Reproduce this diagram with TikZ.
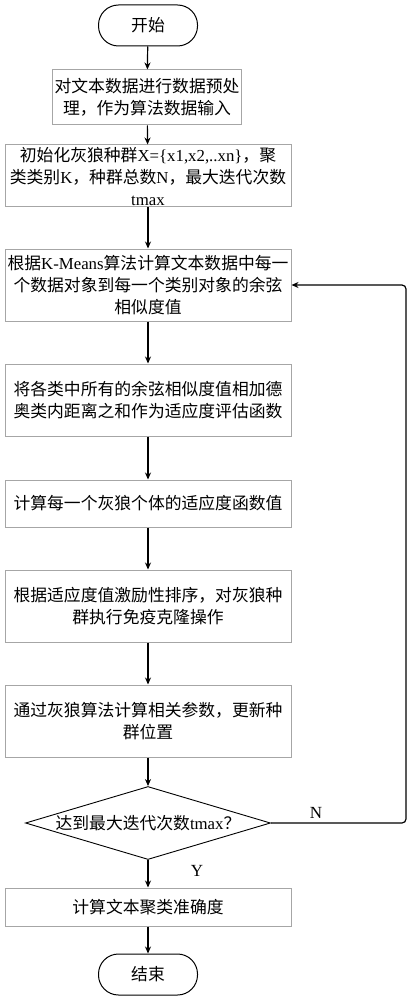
\documentclass[tikz,border=0pt]{standalone}
\usepackage{fontspec}
\setmainfont{Noto Sans CJK SC}
\newfontfamily\lat{Liberation Serif}
\usetikzlibrary{shapes.geometric,arrows.meta}
\begin{document}
\begin{tikzpicture}[x=1pt,y=-1pt,
  every node/.style={font=\fontsize{16.8}{22}\selectfont},
  term/.style={draw=black, line width=1pt, rounded corners=20pt, minimum width=99pt, minimum height=41pt, inner sep=0pt},
  proc/.style={draw=gray!70, line width=1pt, minimum width=286pt, inner sep=0pt, align=center},
  dec/.style={draw=black, line width=0.9pt, diamond, aspect=3.36, inner sep=0pt, minimum width=245pt, minimum height=73pt},
  arr/.style={-{Stealth[length=7pt,width=6pt]}, line width=1.2pt},
  lbl/.style={font=\lat\fontsize{17}{18}\selectfont}]
\useasboundingbox (0,0) rectangle (412,1000);
\fill[white] (0,0) rectangle (412,1000);
\node[term] (start) at (148,25.5) {开始};
\node[proc, minimum width=189pt, minimum height=55pt] (b1) at (147,97.5) {对文本数据进行数据预处\\理，作为算法数据输入};
\node[proc, minimum height=62pt] (b2) at (148,176) {初始化灰狼种群{\lat X=\{x1,x2,..xn\}}，聚\\类类别{\lat K}，种群总数{\lat N}，最大迭代次数\\ \lat tmax};
\node[proc, minimum height=72pt] (b3) at (148,285) {根据{\lat K-Means}算法计算文本数据中每一\\个数据对象到每一个类别对象的余弦\\相似度值};
\node[proc, minimum height=72pt] (b4) at (148,400) {将各类中所有的余弦相似度值相加德\\奥类内距离之和作为适应度评估函数};
\node[proc, minimum height=47pt] (b5) at (148,503.5) {计算每一个灰狼个体的适应度函数值};
\node[proc, minimum height=72pt] (b6) at (148,606) {根据适应度值激励性排序，对灰狼种\\群执行免疫克隆操作};
\node[proc, minimum height=72pt] (b7) at (148,721) {通过灰狼算法计算相关参数，更新种\\群位置};
\node[dec] (d) at (148,823) {达到最大迭代次数{\lat tmax}？};
\node[proc, minimum height=38pt] (b8) at (148,907) {计算文本聚类准确度};
\node[term] (end) at (148,974.5) {结束};
\draw[arr] (start) -- (b1);
\draw[arr] (b1) -- (b2);
\draw[arr] (b2) -- (b3);
\draw[arr] (b3) -- (b4);
\draw[arr] (b4) -- (b5);
\draw[arr] (b5) -- (b6);
\draw[arr] (b6) -- (b7);
\draw[arr] (b7) -- (d);
\draw[arr] (d) -- (b8);
\draw[arr] (b8) -- (end);
\coordinate (c1) at (406,823);
\coordinate (c2) at (406,285);
\draw[arr, rounded corners=4pt] (d.east) -- (c1) -- (c2) -- (b3.east);
\node[lbl] (N) at (316,813) {N};
\node[lbl] (Y) at (197,871) {Y};
\end{tikzpicture}
\end{document}
